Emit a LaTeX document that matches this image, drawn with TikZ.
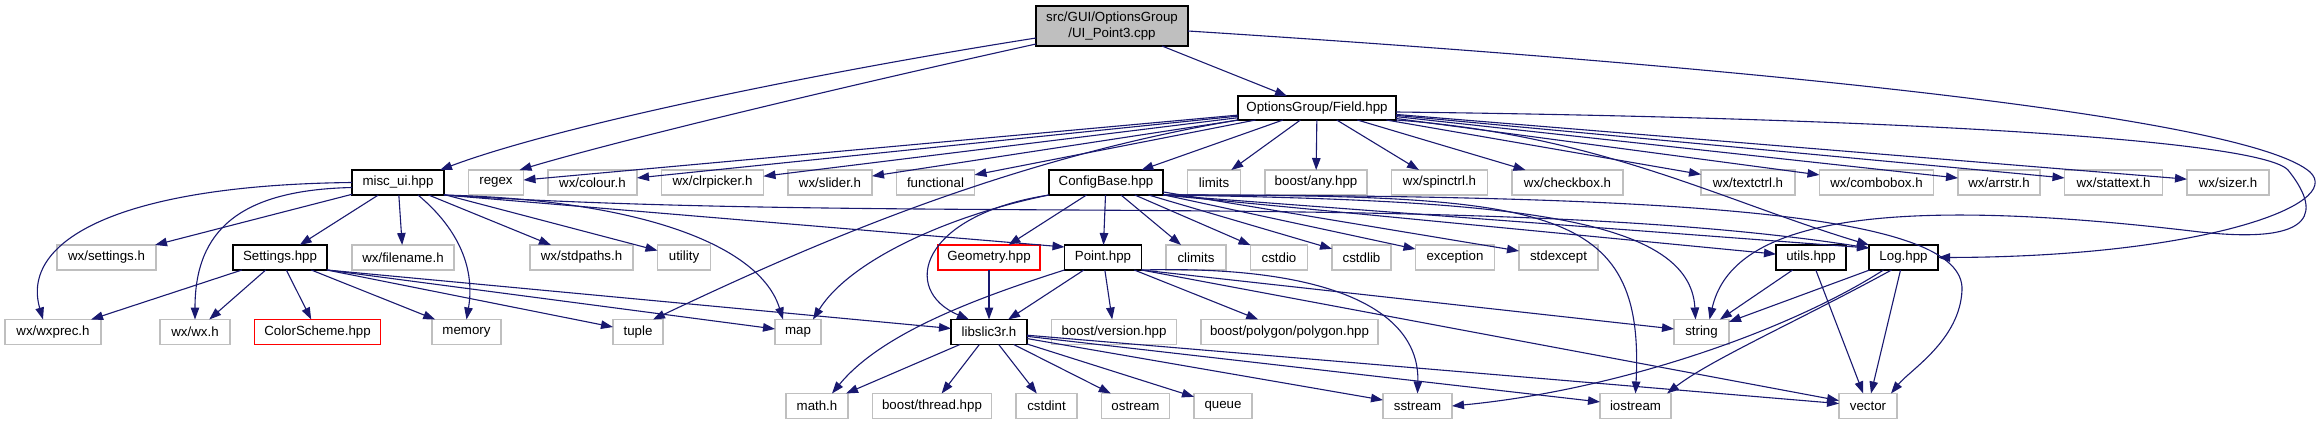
\documentclass[tikz,border=0pt]{standalone}
\usepackage{fontspec}
\setmainfont{Liberation Sans}
\usetikzlibrary{positioning,arrows.meta}
\definecolor{EdgeNavy}{RGB}{25,25,112}
\definecolor{BoxGrey}{RGB}{191,191,191}

\begin{document}
\begin{tikzpicture}[x=1pt, y=-1pt, node distance=24.5pt,
  every node/.style={font=\fontsize{13.3}{15.5}\selectfont, align=center,
    minimum height=25pt, inner sep=2pt, outer sep=0pt, line width=1.6pt},
  sys/.style={draw=BoxGrey, fill=white},
  doc/.style={draw=black, fill=white},
  undoc/.style={draw=red, fill=white},
  dep/.style={-{Triangle[length=12pt,width=8.5pt]}, line width=1.1pt, EdgeNavy}]
  \useasboundingbox (0,0) rectangle (2322,425);

  \node[draw=black, fill=BoxGrey, minimum width=152pt, minimum height=40pt] (root) at (1112,26) {src/GUI/OptionsGroup\\/UI\_Point3.cpp};
  \node[doc, minimum width=158pt, minimum height=24pt] (field) at (1317,108) {OptionsGroup/Field.hpp};

  \node[doc, minimum width=92pt] (misc) at (398,182.5) {misc\_ui.hpp};
  \node[sys, right=of misc, minimum width=55pt] (regex) {regex};
  \node[sys, right=of regex, minimum width=89pt] (colour) {wx/colour.h};
  \node[sys, right=of colour, minimum width=102pt] (clrpicker) {wx/clrpicker.h};
  \node[sys, right=of clrpicker, minimum width=84pt] (slider) {wx/slider.h};
  \node[sys, right=of slider, minimum width=78pt] (functional) {functional};
  \node[doc, minimum width=114pt] (configbase) at (1106,182.5) {ConfigBase.hpp};
  \node[sys, right=of configbase, minimum width=53pt] (limits) {limits};
  \node[sys, right=of limits, minimum width=102pt] (anyhpp) {boost/any.hpp};
  \node[sys, right=of anyhpp, minimum width=96pt] (spinctrl) {wx/spinctrl.h};
  \node[sys, right=of spinctrl, minimum width=111pt] (checkbox) {wx/checkbox.h};
  \node[sys, minimum width=94pt] (textctrl) at (1748,182.5) {wx/textctrl.h};
  \node[sys, right=of textctrl, minimum width=114pt] (combobox) {wx/combobox.h};
  \node[sys, right=of combobox, minimum width=82pt] (arrstr) {wx/arrstr.h};
  \node[sys, right=of arrstr, minimum width=98pt] (stattext) {wx/stattext.h};
  \node[sys, right=of stattext, minimum width=82pt] (sizer) {wx/sizer.h};

  \node[sys, minimum width=99pt] (wxsettings) at (106.5,257.5) {wx/settings.h};
  \node[doc, minimum width=94pt] (settings) at (280,257.5) {Settings.hpp};
  \node[sys, minimum width=102pt] (filename) at (403,257.5) {wx/filename.h};
  \node[sys, minimum width=103pt] (stdpaths) at (581.5,257.5) {wx/stdpaths.h};
  \node[sys, right=of stdpaths, minimum width=53pt] (utility) {utility};
  \node[undoc, minimum width=102pt] (geometry) at (989,257.5) {Geometry.hpp};
  \node[doc, right=of geometry, minimum width=77pt] (point) {Point.hpp};
  \node[sys, right=of point, minimum width=60pt] (climits) {climits};
  \node[sys, right=of climits, minimum width=57pt] (cstdio) {cstdio};
  \node[sys, right=of cstdio, minimum width=59pt] (cstdlib) {cstdlib};
  \node[sys, right=of cstdlib, minimum width=79pt] (exception) {exception};
  \node[sys, right=of exception, minimum width=79pt] (stdexcept) {stdexcept};
  \node[doc, minimum width=70pt] (utils) at (1811,257.5) {utils.hpp};
  \node[doc, right=23pt of utils, minimum width=69pt] (log) {Log.hpp};

  \node[sys, minimum width=96pt] (wxprec) at (53,332) {wx/wxprec.h};
  \node[sys, minimum width=70pt] (wxwx) at (195,332) {wx/wx.h};
  \node[undoc, right=of wxwx, minimum width=126pt] (colorscheme) {ColorScheme.hpp};
  \node[sys, minimum width=69pt] (memory) at (466.5,332) {memory};
  \node[sys, minimum width=50pt] (tuple) at (638,332) {tuple};
  \node[sys, minimum width=46pt] (map) at (798,332) {map};
  \node[doc, minimum width=76pt] (libslic3r) at (989,332) {libslic3r.h};
  \node[sys, right=of libslic3r, minimum width=125pt] (version) {boost/version.hpp};
  \node[sys, right=of version, minimum width=177pt] (polygon) {boost/polygon/polygon.hpp};
  \node[sys, minimum width=55pt] (string) at (1701.5,332) {string};

  \node[sys, minimum width=62pt] (math) at (817,406) {math.h};
  \node[sys, right=of math, minimum width=119pt] (thread) {boost/thread.hpp};
  \node[sys, right=of thread, minimum width=61pt] (cstdint) {cstdint};
  \node[sys, right=of cstdint, minimum width=68pt] (ostream) {ostream};
  \node[sys, right=of ostream, minimum width=58pt] (queue) {queue};
  \node[sys, minimum width=69pt] (sstream) at (1417.5,406) {sstream};
  \node[sys, minimum width=71pt] (iostream) at (1635.5,406) {iostream};
  \node[sys, minimum width=58pt] (vector) at (1868,406) {vector};

  \draw[dep] ([yshift=-12pt]root.west) .. controls (820,72) and (560,125) .. ([xshift=-4pt]misc.north east);
  \draw[dep] ([yshift=-18pt]root.west) .. controls (850,85) and (620,140) .. ([xshift=-4pt]regex.north east);
  \draw[dep] (root) -- (field);
  \draw[dep] ([yshift=-5pt]root.east) .. controls (1800,70) and (2250,120) .. (2310,172)
    .. controls (2345,205) and (2200,257) .. (log.east);

  \draw[dep] (field) -- (regex);
  \draw[dep] (field) -- (colour);
  \draw[dep] (field) -- (clrpicker);
  \draw[dep] (field) -- (slider);
  \draw[dep] (field) -- (functional);
  \draw[dep] (field) -- (configbase);
  \draw[dep] (field) -- (limits);
  \draw[dep] (field) -- (anyhpp);
  \draw[dep] (field) -- (spinctrl);
  \draw[dep] (field) -- (checkbox);
  \draw[dep] (field) -- (textctrl);
  \draw[dep] (field) -- (combobox);
  \draw[dep] (field) -- (arrstr);
  \draw[dep] (field) -- (stattext);
  \draw[dep] (field) -- (sizer);
  \draw[dep] (field.south west) .. controls (1000,160) and (800,250) .. ([xshift=-10pt]tuple.north east);
  \draw[dep] (field.south east) .. controls (1600,135) and (1720,200) .. (log.north west);
  \draw[dep] ([yshift=-4pt]field.east) .. controls (1900,118) and (2260,140) .. (2288,170)
    .. controls (2320,210) and (2320,245) .. (2200,232)
    .. controls (1850,190) and (1730,230) .. ([xshift=8pt]string.north);

  \draw[dep] (configbase) -- (geometry);
  \draw[dep] (configbase) -- (point);
  \draw[dep] (configbase) -- (climits);
  \draw[dep] (configbase) -- (cstdio);
  \draw[dep] (configbase) -- (cstdlib);
  \draw[dep] (configbase) -- (exception);
  \draw[dep] (configbase) -- (stdexcept);
  \draw[dep] (configbase.south east) -- (utils);
  \draw[dep] (configbase.south east) -- ([yshift=-3pt]log.north west);
  \draw[dep] (configbase.south east) .. controls (1700,195) and (1965,215) .. (1962,290)
    .. controls (1960,340) and (1910,370) .. ([xshift=-6pt]vector.north east);
  \draw[dep] (configbase.south east) .. controls (1500,200) and (1690,215) .. ([xshift=-6pt]string.north);
  \draw[dep] (configbase.south east) .. controls (1550,195) and (1645,205) .. (iostream.north);
  \draw[dep] (configbase.south west) .. controls (920,215) and (900,290) .. ([xshift=-20pt]libslic3r.north);
  \draw[dep] (configbase.south west) .. controls (950,215) and (850,260) .. ([xshift=-8pt]map.north east);

  \draw[dep] (misc.west) .. controls (120,185) and (20,240) .. ([xshift=-10pt]wxprec.north);
  \draw[dep] (misc) -- (wxsettings);
  \draw[dep] ([yshift=-5pt]misc.west) .. controls (240,190) and (195,230) .. (wxwx.north);
  \draw[dep] (misc) -- (settings);
  \draw[dep] (misc) -- (filename);
  \draw[dep] ([xshift=20pt]misc.south) .. controls (460,230) and (475,270) .. (memory.north);
  \draw[dep] (misc) -- (stdpaths);
  \draw[dep] (misc) -- (utility);
  \draw[dep] (misc.south east) .. controls (640,200) and (760,245) .. ([xshift=8pt]map.north west);
  \draw[dep] (misc.south east) -- ([yshift=-2pt]point.north west);
  \draw[dep] (misc.south east) .. controls (900,225) and (1500,190) .. ([yshift=-3pt]log.north west);

  \draw[dep] (settings) -- (wxprec);
  \draw[dep] (settings) -- (wxwx);
  \draw[dep] (settings) -- (colorscheme);
  \draw[dep] (settings) -- (memory);
  \draw[dep] (settings.south east) -- (tuple);
  \draw[dep] (settings.south east) -- (map);
  \draw[dep] (settings.south east) -- (libslic3r);

  \draw[dep] (geometry) -- (libslic3r);

  \draw[dep] (point) -- (libslic3r);
  \draw[dep] (point) -- (version);
  \draw[dep] (point) -- (polygon);
  \draw[dep] (point.south west) .. controls (970,300) and (880,335) .. ([xshift=15pt]math.north);
  \draw[dep] (point.south east) .. controls (1330,265) and (1420,310) .. (sstream.north);
  \draw[dep] (point.south east) -- (string);
  \draw[dep] (point.south east) -- (vector);

  \draw[dep] (libslic3r) -- (math);
  \draw[dep] (libslic3r) -- (thread);
  \draw[dep] (libslic3r) -- (cstdint);
  \draw[dep] (libslic3r) -- (ostream);
  \draw[dep] (libslic3r) -- (queue);
  \draw[dep] (libslic3r) -- (sstream);
  \draw[dep] (libslic3r) -- (iostream);
  \draw[dep] (libslic3r) -- (vector);

  \draw[dep] (utils) -- (string);
  \draw[dep] (utils) -- (vector);

  \draw[dep] (log) -- (string);
  \draw[dep] ([xshift=-20pt]log.south) .. controls (1790,330) and (1620,390) .. (sstream.east);
  \draw[dep] ([xshift=-12pt]log.south) .. controls (1800,320) and (1710,360) .. ([xshift=-4pt]iostream.north east);
  \draw[dep] (log) -- (vector);
\end{tikzpicture}
\end{document}
